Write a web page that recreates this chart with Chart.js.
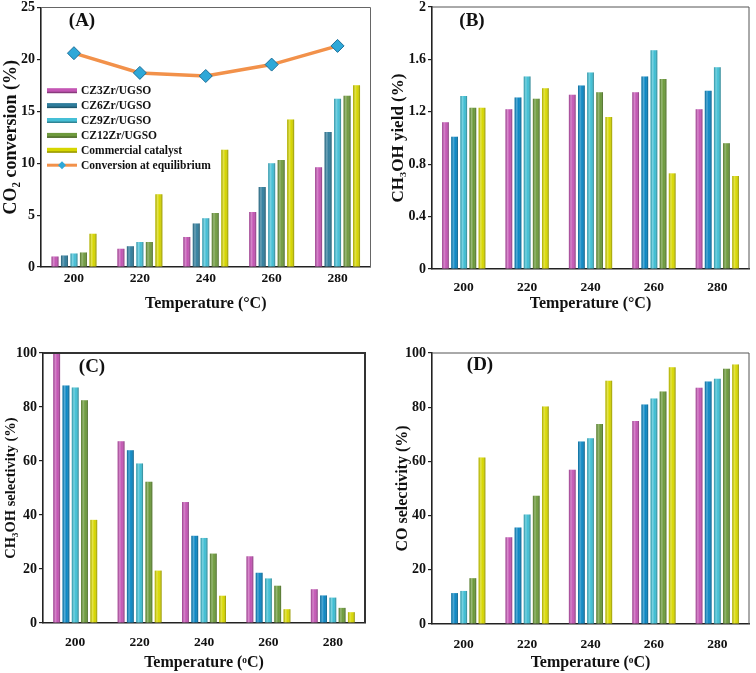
<!DOCTYPE html>
<html>
<head>
<meta charset="utf-8">
<script src="https://cdn.jsdelivr.net/npm/chart.js@4.4.1/dist/chart.umd.min.js"></script>
<style>
  body { margin: 0; background: #fff; width: 756px; height: 673px; position: relative; overflow: hidden; }
  .panel { position: absolute; }
  .lbl { position: absolute; transform: translate(-50%, -50%); font: bold 19px "Liberation Serif", serif; color: #111; white-space: nowrap; }
</style>
</head>
<body>
<div class="panel" style="left:0;top:0;width:378px;height:313px"><canvas id="chartA"></canvas></div>
<div class="panel" style="left:378px;top:0;width:378px;height:313px"><canvas id="chartB"></canvas></div>
<div class="panel" style="left:0;top:340px;width:378px;height:332px"><canvas id="chartC"></canvas></div>
<div class="panel" style="left:378px;top:340px;width:378px;height:332px"><canvas id="chartD"></canvas></div>
<div class="lbl" style="left:82px;top:20px">(A)</div>
<div class="lbl" style="left:472px;top:20px">(B)</div>
<div class="lbl" style="left:92px;top:366px">(C)</div>
<div class="lbl" style="left:480px;top:364px">(D)</div>
<script>
const temps = ['200', '220', '240', '260', '280'];
const catalysts = ['CZ3Zr/UGSO', 'CZ6Zr/UGSO', 'CZ9Zr/UGSO', 'CZ12Zr/UGSO', 'Commercial catalyst'];
const eqLabel = 'Conversion at equilibrium';

// (A) CO2 conversion, %
const conv3 = [1.0, 1.75, 2.9, 5.3, 9.6];
const conv6 = [1.1, 2.0, 4.2, 7.7, 13.0];
const conv9 = [1.3, 2.4, 4.7, 10.0, 16.2];
const conv12 = [1.4, 2.4, 5.2, 10.3, 16.5];
const convCom = [3.2, 7.0, 11.3, 14.2, 17.5];
const convEq = [20.6, 18.7, 18.4, 19.5, 21.3];

// (B) CH3OH yield, %
const yield3 = [1.12, 1.22, 1.33, 1.35, 1.22];
const yield6 = [1.01, 1.31, 1.40, 1.47, 1.36];
const yield9 = [1.32, 1.47, 1.50, 1.67, 1.54];
const yield12 = [1.23, 1.30, 1.35, 1.45, 0.96];
const yieldCom = [1.23, 1.38, 1.16, 0.73, 0.71];

// (C) CH3OH selectivity, %
const meoh3 = [100, 67.3, 44.8, 24.7, 12.5];
const meoh6 = [88.0, 64.0, 32.3, 18.6, 10.2];
const meoh9 = [87.2, 59.1, 31.5, 16.5, 9.4];
const meoh12 = [82.5, 52.3, 25.7, 13.8, 5.6];
const meohCom = [38.2, 19.4, 10.1, 5.1, 4.0];

// (D) CO selectivity, %
const co3 = [0, 32.0, 56.9, 74.9, 87.2];
const co6 = [11.4, 35.6, 67.3, 81.0, 89.5];
const co9 = [12.2, 40.4, 68.5, 83.2, 90.5];
const co12 = [16.9, 47.3, 73.8, 85.8, 94.2];
const coCom = [61.4, 80.3, 89.8, 94.7, 95.8];

const ticksA = [0, 5, 10, 15, 20, 25];
const ticksB = [0, 0.4, 0.8, 1.2, 1.6, 2];
const ticksPct = [0, 20, 40, 60, 80, 100];

const colorsA = ['#c455b4', '#2f7d9c', '#45bfd6', '#6f9a3e', '#d6d600'];
const colorsBCD = ['#c455b4', '#0a87c4', '#3fbfd4', '#6c9a3a', '#d8d800'];

const serif = '"Liberation Serif", "Times New Roman", serif';
const ink = '#111';

// shading over each bar so it looks like the rounded 3D bars
const barShade = {
  id: 'barShade',
  afterDatasetsDraw(chart) {
    const ctx = chart.ctx;
    chart.data.datasets.forEach((ds, i) => {
      const meta = chart.getDatasetMeta(i);
      if (meta.type !== 'bar') return;
      meta.data.forEach(el => {
        const {x, y, base, width} = el.getProps(['x', 'y', 'base', 'width'], true);
        if (base - y < 0.5) return;
        const l = x - width / 2;
        const g = ctx.createLinearGradient(l, 0, l + width, 0);
        g.addColorStop(0, 'rgba(0,0,0,0.18)');
        g.addColorStop(0.3, 'rgba(255,255,255,0.30)');
        g.addColorStop(0.6, 'rgba(255,255,255,0)');
        g.addColorStop(1, 'rgba(0,0,0,0.35)');
        ctx.save();
        ctx.fillStyle = g;
        ctx.fillRect(l, y, width, base - y);
        ctx.restore();
      });
    });
  }
};

// top and right edges of the plot box
const frame = {
  id: 'frame',
  afterDraw(chart, args, opts) {
    const {left, right, top, bottom} = chart.chartArea;
    const ctx = chart.ctx;
    ctx.save();
    ctx.strokeStyle = opts.color || '#555';
    ctx.lineWidth = opts.width || 1;
    ctx.beginPath();
    ctx.moveTo(left, top);
    ctx.lineTo(right, top);
    ctx.lineTo(right, bottom);
    ctx.stroke();
    ctx.restore();
  }
};

// legend inside panel A
const innerLegend = {
  id: 'innerLegend',
  afterDraw(chart, args, opts) {
    if (!opts.show) return;
    const ctx = chart.ctx;
    ctx.save();
    ctx.font = 'bold 11.5px ' + serif;
    ctx.textBaseline = 'middle';
    chart.data.datasets.forEach((ds, i) => {
      const y = opts.y + i * opts.step;
      const x0 = opts.x, x1 = opts.x + opts.w;
      if (ds.type === 'line') {
        ctx.strokeStyle = ds.borderColor;
        ctx.lineWidth = 3;
        ctx.beginPath(); ctx.moveTo(x0, y); ctx.lineTo(x1, y); ctx.stroke();
        const cx = (x0 + x1) / 2, r = 4;
        ctx.fillStyle = ds.pointBackgroundColor;
        ctx.beginPath();
        ctx.moveTo(cx, y - r); ctx.lineTo(cx + r, y); ctx.lineTo(cx, y + r); ctx.lineTo(cx - r, y);
        ctx.closePath(); ctx.fill();
      } else {
        ctx.fillStyle = ds.backgroundColor;
        ctx.fillRect(x0, y - 2.5, opts.w, 5);
        ctx.fillStyle = 'rgba(0,0,0,0.3)';
        ctx.fillRect(x0, y + 1, opts.w, 1.5);
      }
      ctx.fillStyle = ink;
      ctx.fillText(ds.label, x1 + 4, y + 0.5);
    });
    ctx.restore();
  }
};

function makePanel(id, o) {
  const datasets = o.series.map((d, i) => ({
    type: 'bar',
    label: catalysts[i],
    data: d,
    backgroundColor: o.colors[i],
    categoryPercentage: 0.72,
    barPercentage: 0.74,
    order: 2
  }));
  if (o.line) {
    datasets.push({
      type: 'line',
      label: eqLabel,
      data: o.line,
      borderColor: '#f2914a',
      borderWidth: 3.5,
      tension: 0,
      pointStyle: 'rectRot',
      pointRadius: 6.5,
      pointBackgroundColor: '#2ea8d8',
      pointBorderColor: '#1c6f99',
      pointBorderWidth: 1,
      order: 1
    });
  }
  return new Chart(document.getElementById(id), {
    type: 'bar',
    data: {labels: temps, datasets},
    options: {
      responsive: true,
      maintainAspectRatio: false,
      animation: false,
      layout: {padding: o.pad},
      plugins: {
        legend: {display: false},
        tooltip: {enabled: false},
        frame: o.frame,
        innerLegend: o.legend || {show: false}
      },
      scales: {
        x: {
          grid: {display: false, drawTicks: false},
          border: {color: '#222', width: 1.6},
          ticks: {color: ink, font: {family: serif, size: 13.5, weight: 'bold'}, padding: o.xTickPad},
          title: {display: true, text: o.xTitle, color: ink, font: {family: serif, size: 16, weight: 'bold'}, padding: 0},
          afterFit(s) { s.height = o.xh; s.paddingLeft = 0; s.paddingRight = 0; }
        },
        y: {
          min: 0,
          max: o.ticks[o.ticks.length - 1],
          afterBuildTicks(s) { s.ticks = o.ticks.map(v => ({value: v})); },
          grid: {drawOnChartArea: false, drawTicks: true, tickLength: 4, color: '#222', lineWidth: 1.2},
          border: {color: '#222', width: 1.6},
          ticks: {color: ink, font: {family: serif, size: 14, weight: 'bold'}, padding: 2, callback: v => String(v)},
          title: {display: true, text: o.yTitle, color: ink, font: {family: serif, size: o.yTitleSize, weight: 'bold'}, padding: {top: o.yTitlePad, bottom: 0}},
          afterFit(s) { s.width = o.yw; s.paddingTop = 0; s.paddingBottom = 0; }
        }
      }
    },
    plugins: [barShade, frame, innerLegend]
  });
}

makePanel('chartA', {
  series: [conv3, conv6, conv9, conv12, convCom],
  line: convEq,
  colors: colorsA,
  ticks: ticksA,
  yTitle: 'CO\u2082 conversion (%)',
  yTitleSize: 18,
  yTitlePad: 1,
  xTitle: 'Temperature (\u00B0C)',
  pad: {top: 7, right: 7, left: 0, bottom: 0},
  yw: 41, xh: 46, xTickPad: 3,
  frame: {color: '#666', width: 1},
  legend: {show: true, x: 47, y: 90.7, step: 14.9, w: 30}
});

makePanel('chartB', {
  series: [yield3, yield6, yield9, yield12, yieldCom],
  colors: colorsBCD,
  ticks: ticksB,
  yTitle: 'CH\u2083OH yield (%)',
  yTitleSize: 17,
  yTitlePad: 10,
  xTitle: 'Temperature (\u00B0C)',
  pad: {top: 7, right: 7, left: 0, bottom: 0},
  yw: 54, xh: 44, xTickPad: 10,
  frame: {color: '#555', width: 1}
});

makePanel('chartC', {
  series: [meoh3, meoh6, meoh9, meoh12, meohCom],
  colors: colorsBCD,
  ticks: ticksPct,
  yTitle: 'CH\u2083OH selectivity (%)',
  yTitleSize: 14.5,
  yTitlePad: 3,
  xTitle: 'Temperature (\u1D52C)',
  pad: {top: 13, right: 13, left: 0, bottom: 0},
  yw: 43, xh: 49, xTickPad: 11,
  frame: {color: '#333', width: 2}
});

makePanel('chartD', {
  series: [co3, co6, co9, co12, coCom],
  colors: colorsBCD,
  ticks: ticksPct,
  yTitle: 'CO selectivity (%)',
  yTitleSize: 16,
  yTitlePad: 15,
  xTitle: 'Temperature (\u1D52C)',
  pad: {top: 13, right: 7, left: 0, bottom: 0},
  yw: 54, xh: 48, xTickPad: 12,
  frame: {color: '#555', width: 1}
});
</script>
</body>
</html>
